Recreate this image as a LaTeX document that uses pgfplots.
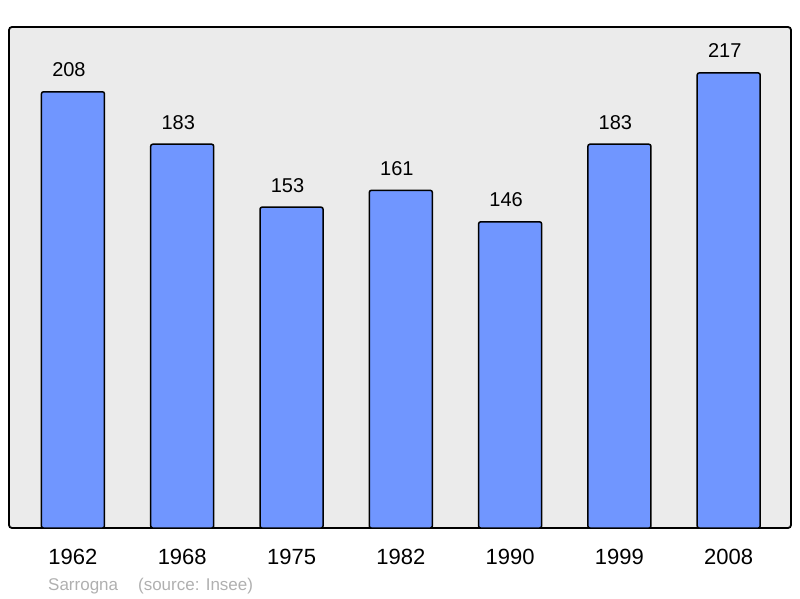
\documentclass[border=0pt]{standalone}
\usepackage{fontspec}
\setmainfont{Liberation Sans}
\usepackage{pgfplots}
\pgfplotsset{compat=1.18}

\definecolor{barblue}{RGB}{112,150,255}
\definecolor{panel}{RGB}{235,235,235}
\definecolor{srcgray}{RGB}{176,176,176}

\pgfplotstableread{
x year pop
0 1962 208
1 1968 183
2 1975 153
3 1982 161
4 1990 146
5 1999 183
6 2008 217
}\poptable

\begin{document}
\begin{tikzpicture}
\useasboundingbox (0,0) rectangle (800pt,598pt);
\begin{axis}[
    at={(9pt,70pt)}, anchor=south west,
    scale only axis,
    width=782pt, height=501pt,
    ymin=0, ymax=238.9,
    xmin=-0.585, xmax=6.57,
    /pgf/number format/assume math mode=true,
    axis background/.style={fill=panel, draw=black, line width=1.8pt, rounded corners=3pt},
    axis line style={draw=none},
    ytick=\empty,
    xtick=data,
    xticklabels from table={\poptable}{year},
    major tick length=0pt,
    xticklabel style={font=\fontsize{22}{24}\selectfont, anchor=base, yshift=-36pt},
    ybar, bar width=63pt,
    nodes near coords,
    every node near coord/.append style={font=\fontsize{20}{22}\selectfont, anchor=base, yshift=15pt, xshift=-4pt},
    clip=false,
]
\addplot[fill=barblue, draw=black, line width=1.5pt, rounded corners=2pt] table[x=x, y=pop] {\poptable};
\end{axis}
\node[anchor=base west, text=srcgray, font=\fontsize{17}{19}\selectfont, inner sep=0pt] at (48pt,8pt) {Sarrogna\hspace{20pt}(source: Insee)};
\end{tikzpicture}
\end{document}
